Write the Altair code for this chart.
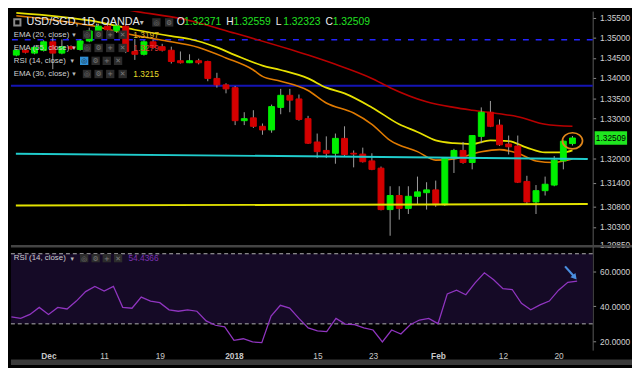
import altair as alt
import pandas as pd

# ---------------- data ----------------
opens = [1.3457, 1.3469, 1.3462, 1.3469, 1.3490, 1.3462, 1.3478, 1.3471, 1.3492, 1.3517,
         1.3529, 1.3517, 1.3529, 1.3466, 1.3459, 1.3490, 1.3478, 1.3469, 1.3443, 1.3438,
         1.3443, 1.3441, 1.3399, 1.3383, 1.3376, 1.3294, 1.3301, 1.3280, 1.3271, 1.3327,
         1.3357, 1.3348, 1.3299, 1.3241, 1.3220, 1.3213, 1.3250, 1.3213, 1.3211, 1.3194,
         1.3176, 1.3073, 1.3108, 1.3076, 1.3106, 1.3115, 1.3122, 1.3085, 1.3201, 1.3220,
         1.3190, 1.3255, 1.3315, 1.3283, 1.3236, 1.3231, 1.3143, 1.3092, 1.3120, 1.3134,
         1.3194, 1.32371]
highs = [1.3472, 1.3472, 1.3479, 1.3494, 1.3501, 1.3496, 1.3481, 1.3496, 1.3525, 1.3535,
         1.3540, 1.3533, 1.3535, 1.3497, 1.3494, 1.3494, 1.3485, 1.3478, 1.3466, 1.3459,
         1.3448, 1.3443, 1.3413, 1.3387, 1.3380, 1.3315, 1.3320, 1.3287, 1.3334, 1.3373,
         1.3373, 1.3359, 1.3306, 1.3262, 1.3255, 1.3262, 1.3280, 1.3220, 1.3227, 1.3213,
         1.3180, 1.3131, 1.3131, 1.3131, 1.3155, 1.3141, 1.3145, 1.3203, 1.3224, 1.3241,
         1.3258, 1.3327, 1.3343, 1.3297, 1.3257, 1.3257, 1.3157, 1.3134, 1.3155, 1.3206,
         1.3245, 1.32559]
lows = [1.3454, 1.3461, 1.3459, 1.3466, 1.3422, 1.3459, 1.3470, 1.3468, 1.3489, 1.3513,
        1.3515, 1.3512, 1.3462, 1.3445, 1.3456, 1.3473, 1.3466, 1.3436, 1.3436, 1.3437,
        1.3434, 1.3392, 1.3376, 1.3362, 1.3283, 1.3283, 1.3276, 1.3259, 1.3264, 1.3310,
        1.3315, 1.3294, 1.3236, 1.3201, 1.3201, 1.3187, 1.3206, 1.3178, 1.3190, 1.3171,
        1.3071, 1.3008, 1.3048, 1.3062, 1.3085, 1.3073, 1.3080, 1.3082, 1.3164, 1.3187,
        1.3173, 1.3238, 1.3278, 1.3231, 1.3210, 1.3139, 1.3085, 1.3062, 1.3108, 1.3131,
        1.3173, 1.32323]
closes = [1.3469, 1.3464, 1.3476, 1.3490, 1.3462, 1.3478, 1.3473, 1.3492, 1.3517, 1.3529,
          1.3520, 1.3529, 1.3466, 1.3459, 1.3490, 1.3476, 1.3469, 1.3441, 1.3438, 1.3443,
          1.3438, 1.3399, 1.3383, 1.3373, 1.3294, 1.3299, 1.3280, 1.3271, 1.3329, 1.3357,
          1.3345, 1.3297, 1.3238, 1.3217, 1.3213, 1.3250, 1.3210, 1.3211, 1.3192, 1.3173,
          1.3073, 1.3108, 1.3076, 1.3106, 1.3117, 1.3122, 1.3085, 1.3201, 1.3220, 1.3190,
          1.3257, 1.3315, 1.3280, 1.3234, 1.3229, 1.3141, 1.3092, 1.3120, 1.3136, 1.3196,
          1.3243, 1.32509]
rsi = [34.0, 33.1, 35.4, 39.4, 35.4, 39.4, 38.5, 43.0, 48.4, 51.4,
       48.7, 51.4, 39.4, 38.9, 45.3, 43.0, 42.1, 38.0, 37.2, 38.0,
       37.2, 31.7, 29.2, 28.3, 20.6, 21.5, 19.7, 19.3, 34.4, 40.6,
       39.0, 33.1, 27.7, 26.0, 25.6, 33.1, 29.9, 29.5, 27.7, 26.5,
       19.7, 26.5, 24.2, 29.5, 32.2, 33.1, 30.1, 47.1, 49.2, 46.6,
       53.4, 59.1, 55.2, 50.1, 49.6, 41.7, 38.0, 40.8, 43.0, 49.2,
       53.7, 54.44]

ema55_idx = [8, 13, 18, 24, 32, 35, 39, 41, 45, 48, 50, 53, 55, 58, 61]
ema55 = [1.3590, 1.3566, 1.3548, 1.3511, 1.3457, 1.3434, 1.3399, 1.3376, 1.3341,
         1.3327, 1.3320, 1.3311, 1.3304, 1.3285, 1.3280]
ema30_idx = [0, 8, 13, 17, 19, 22, 24, 27, 29, 32, 34, 36, 39, 42, 44, 46, 48, 50,
             52, 54, 56, 58, 60, 61]
ema30 = [1.3562, 1.3543, 1.3520, 1.3504, 1.3497, 1.3476, 1.3457, 1.3431, 1.3420,
         1.3399, 1.3376, 1.3362, 1.3327, 1.3285, 1.3266, 1.3245, 1.3238, 1.3236,
         1.3245, 1.3243, 1.3227, 1.3215, 1.3215, 1.3220]
ema20_idx = [0, 8, 13, 16, 20, 23, 26, 27, 29, 32, 34, 37, 39, 41, 44, 46, 48, 51,
             53, 55, 57, 59, 60, 61]
ema20 = [1.3555, 1.3531, 1.3506, 1.3494, 1.3476, 1.3450, 1.3420, 1.3404, 1.3392,
         1.3369, 1.3338, 1.3313, 1.3285, 1.3245, 1.3217, 1.3196, 1.3199, 1.3217,
         1.3222, 1.3213, 1.3194, 1.3190, 1.3194, 1.3199]

level_blue_dash = [1.3495]
level_blue = [1.3381]
span_idx = [-0.05, 62.68]
cyan_line = [1.3212, 1.3199]
yellow_line = [1.3083, 1.3087]
rsi_levels = [70, 30]
arrow_idx = [59.7, 60.75]
arrow_rsi = [62.8, 56.6]

price_ticks = [1.355, 1.35, 1.345, 1.34, 1.335, 1.33, 1.32, 1.314, 1.308, 1.303, 1.2985]
rsi_ticks = [20, 40, 60]
date_idx = [4, 10, 16, 24, 33, 39, 46, 53, 59]
date_lbl = ["Dec", "11", "19", "2018", "15", "23", "Feb", "12", "20"]
bold_lbl = ["Dec", "2018", "Feb"]

title_txt = "USD/SGD, 1D, OANDA"
ohlc_keys = ["O", "H", "L", "C"]
ohlc_vals = ["1.32371", "1.32559", "1.32323", "1.32509"]
ind_names = ["EMA (20, close)", "EMA (55, close)", "RSI (14, close)", "EMA (30, close)"]
ind_vals = ["1.3197", "1.3279", "", "1.3215"]
rsi_value_txt = "54.4366"

# ---------------- frames ----------------
df = pd.DataFrame({"i": list(range(len(opens))), "open": opens, "high": highs,
                   "low": lows, "close": closes, "rsi": rsi})
last_df = df.tail(1)
e55 = pd.DataFrame({"i": ema55_idx, "v": ema55})
e30 = pd.DataFrame({"i": ema30_idx, "v": ema30})
e20 = pd.DataFrame({"i": ema20_idx, "v": ema20})
cyan_df = pd.DataFrame({"i": span_idx, "v": cyan_line})
yel_df = pd.DataFrame({"i": span_idx, "v": yellow_line})
bd_df = pd.DataFrame({"v": level_blue_dash})
bl_df = pd.DataFrame({"v": level_blue})
rl_df = pd.DataFrame({"v": rsi_levels})
band_df = pd.DataFrame({"top": [max(rsi_levels)], "bot": [min(rsi_levels)]})
arrow_df = pd.DataFrame({"i0": [arrow_idx[0]], "i1": [arrow_idx[1]],
                         "v0": [arrow_rsi[0]], "v1": [arrow_rsi[1]]})
ONE = pd.DataFrame({"k": [0]})

# ---------------- layout ----------------
W = 592
H1 = 238
H2 = 107
FONT = "Liberation Sans"
GREEN = "#00f000"
RED = "#d40000"

XS = alt.Scale(domain=span_idx, nice=False, zero=False)
PS = alt.Scale(domain=[1.2985, 1.35663], nice=False, zero=False)
RS = alt.Scale(domain=[15, 75], nice=False, zero=False)

axis_common = dict(orient="right", title=None, grid=False, domainColor="#5c5c5c",
                   tickColor="#8c8c8c", tickSize=3, labelColor="#d2d2d2",
                   labelFontSize=8.5, labelPadding=4, labelFont=FONT,
                   labelOverlap=False, labelFlush=False)
price_axis = alt.Axis(values=price_ticks, format=".5f", **axis_common)
rsi_axis = alt.Axis(values=rsi_ticks, format=".4f", **axis_common)

expr = "''"
for v, l in reversed(list(zip(date_idx, date_lbl))):
    expr = f"datum.value == {v} ? '{l}' : ({expr})"
bold_test = " || ".join(f"datum.value == {v}" for v, l in zip(date_idx, date_lbl) if l in bold_lbl)
date_axis = alt.Axis(values=date_idx, labelExpr=expr, ticks=False, domain=False, grid=False,
                     title=None, labelColor="#c8c8c8", labelFontSize=8.5, labelFont=FONT,
                     labelPadding=2,
                     labelFontWeight={"condition": {"test": bold_test, "value": "bold"},
                                      "value": "normal"})


def PX(f):
    return alt.X(f, type="quantitative", scale=XS, axis=None, title=None)


def DX(f):
    return alt.X(f, type="quantitative", scale=XS, axis=date_axis, title=None)


def PY(f):
    return alt.Y(f, type="quantitative", scale=PS, axis=price_axis, title=None)


def RY(f):
    return alt.Y(f, type="quantitative", scale=RS, axis=rsi_axis, title=None)


def txt(t, x, y, color="#cfcfcf", size=8, weight="normal", font=FONT, align="left"):
    return alt.Chart(ONE).mark_text(text=t, align=align, baseline="middle", color=color,
                                    fontSize=size, fontWeight=weight, font=font).encode(
        x=alt.value(x), y=alt.value(y))


def icons(xs, y, first_color="#2c2c2c"):
    glyphs = ["◎", "⚙", "+", "✕"]
    out = []
    for k, x in enumerate(xs):
        c = first_color if k == 0 else "#2c2c2c"
        out.append(alt.Chart(ONE).mark_square(size=72, color=c, opacity=1).encode(
            x=alt.value(x), y=alt.value(y)))
        out.append(txt(glyphs[k], x, y + 0.5, color="#1a1a1a" if c != "#2c2c2c" else "#7a7a7a",
                       size=7, font="DejaVu Sans", align="center"))
    return out


# ---------------- price panel ----------------
base = alt.Chart(df)
layers = [
    alt.Chart(bd_df).mark_rule(color="#2424ff", strokeWidth=1.6, strokeDash=[6, 7]).encode(y=PY("v")),
    alt.Chart(bl_df).mark_rule(color="#1414b4", strokeWidth=2).encode(y=PY("v")),
    alt.Chart(e55).mark_line(color="#b80000", strokeWidth=1.6, interpolate="monotone", clip=True).encode(x=PX("i"), y=PY("v")),
    alt.Chart(e30).mark_line(color="#e6e000", strokeWidth=1.8, interpolate="monotone", clip=True).encode(x=PX("i"), y=PY("v")),
    alt.Chart(e20).mark_line(color="#e07a00", strokeWidth=1.6, interpolate="monotone", clip=True).encode(x=PX("i"), y=PY("v")),
    base.mark_rule(color="#a0a0a0", strokeWidth=1).encode(x=PX("i"), y=PY("low"), y2="high"),
    base.mark_bar(size=6, strokeWidth=1).encode(
        x=PX("i"), y=PY("open"), y2="close",
        color=alt.condition("datum.close >= datum.open", alt.value(GREEN), alt.value(RED)),
        stroke=alt.condition("datum.close >= datum.open", alt.value(GREEN), alt.value(RED))),
    alt.Chart(cyan_df).mark_line(color="#20cccc", strokeWidth=2).encode(x=PX("i"), y=PY("v")),
    alt.Chart(yel_df).mark_line(color="#e2e200", strokeWidth=2).encode(x=PX("i"), y=PY("v")),
    alt.Chart(last_df).transform_calculate(mid="(datum.open + datum.close) / 2").mark_point(
        shape="M-1,0A1,0.8,0,1,1,1,0A1,0.8,0,1,1,-1,0Z", size=420, filled=False,
        stroke="#e0861a", strokeWidth=1.7, opacity=1).encode(x=PX("i"), y=PY("mid:Q")),
    alt.Chart(last_df).mark_point(shape="M-1,-0.42L1,-0.42L1,0.42L-1,0.42Z", size=1090,
                                  filled=True, color="#1fe61f", opacity=1).encode(
        x=alt.value(W + 18.5), y=PY("close")),
    alt.Chart(last_df).mark_text(color="#000000", fontSize=8.5, font=FONT, align="center",
                                 baseline="middle").encode(
        x=alt.value(W + 18.5), y=PY("close"), text=alt.Text("close:Q", format=".5f")),
]

# legend rows
layers.append(alt.Chart(ONE).mark_point(shape="square", filled=False, stroke="#8a8a8a",
                                        size=40, opacity=1).encode(x=alt.value(6.5), y=alt.value(11.5)))
layers.append(txt(title_txt, 15.7, 11.5, color="#e8e8e8", size=11))
layers.append(txt("▾", 131, 12, color="#bbbbbb", size=8, font="DejaVu Sans"))
layers += icons([148, 161], 11.5)[:4]
kx = [168.6, 219.0, 269.5, 320.0]
for k, v, x in zip(ohlc_keys, ohlc_vals, kx):
    layers.append(txt(k, x, 11.5, color="#eeeeee", size=10.5))
    layers.append(txt(v, x + 7.5, 11.5, color="#22e022", size=10.5))

row_y = [24.0, 37.5, 50.6, 64.0]
val_colors = ["#e0b428", "#e03a3a", "#cccccc", "#e6dc2a"]
for name, val, y, vc in zip(ind_names, ind_vals, row_y, val_colors):
    layers.append(txt(name, 2.9, y))
    if name.startswith("RSI"):
        layers.append(txt("▾", 60.5, y + 0.5, color="#bbbbbb", size=7, font="DejaVu Sans"))
        layers += icons([74.5, 86.2, 97.5, 109], y, first_color="#2f8fd5")
    else:
        layers.append(txt("▾", 62.5, y + 0.5, color="#bbbbbb", size=7, font="DejaVu Sans"))
        layers += icons([77.4, 89.2, 101, 113.7], y)
    if val:
        layers.append(txt(val, 124.5, y, color=vc, size=8.5))

price_panel = alt.layer(*layers).properties(width=W, height=H1)

# ---------------- RSI panel ----------------
rbase = alt.Chart(df)
rlayers = [
    alt.Chart(band_df).mark_rect(color="#150a26").encode(
        x=alt.value(0), x2=alt.value(W), y=RY("top"), y2="bot"),
    alt.Chart(rl_df).mark_rule(color="#b4b4b4", strokeWidth=1, strokeDash=[4, 3]).encode(y=RY("v")),
    rbase.mark_line(color="#9035c0", strokeWidth=1.3).encode(x=DX("i"), y=RY("rsi")),
    alt.Chart(arrow_df).mark_rule(color="#4a8fe0", strokeWidth=2.2).encode(
        x=DX("i0"), x2="i1", y=RY("v0"), y2="v1"),
    alt.Chart(arrow_df).mark_point(shape="triangle-right", angle=49, size=45, filled=True,
                                   color="#4a8fe0", opacity=1).encode(x=DX("i1"), y=RY("v1")),
    alt.Chart(ONE).mark_rect(color="#444444").encode(
        x=alt.value(0), x2=alt.value(W + 40), y=alt.value(0), y2=alt.value(2.5)),
    alt.Chart(ONE).mark_rect(color="#3a3a3a").encode(
        x=alt.value(0), x2=alt.value(W + 40), y=alt.value(H2 + 9.5), y2=alt.value(H2 + 15)),
    txt(ind_names[2], 2.9, 13.4),
    txt("▾", 60.5, 13.9, color="#bbbbbb", size=7, font="DejaVu Sans"),
]
rlayers += icons([74.5, 86.2, 97.5, 109], 13.4)
rlayers.append(txt(rsi_value_txt, 119.6, 13.4, color="#7a32b0", size=8.5))

rsi_panel = alt.layer(*rlayers).properties(width=W, height=H2)

chart = alt.vconcat(price_panel, rsi_panel, spacing=0, bounds="flush").properties(
    background="#000000", padding=0
).configure_view(stroke=None)

chart.save("out.html", embed_options={"renderer": "svg", "actions": False})
